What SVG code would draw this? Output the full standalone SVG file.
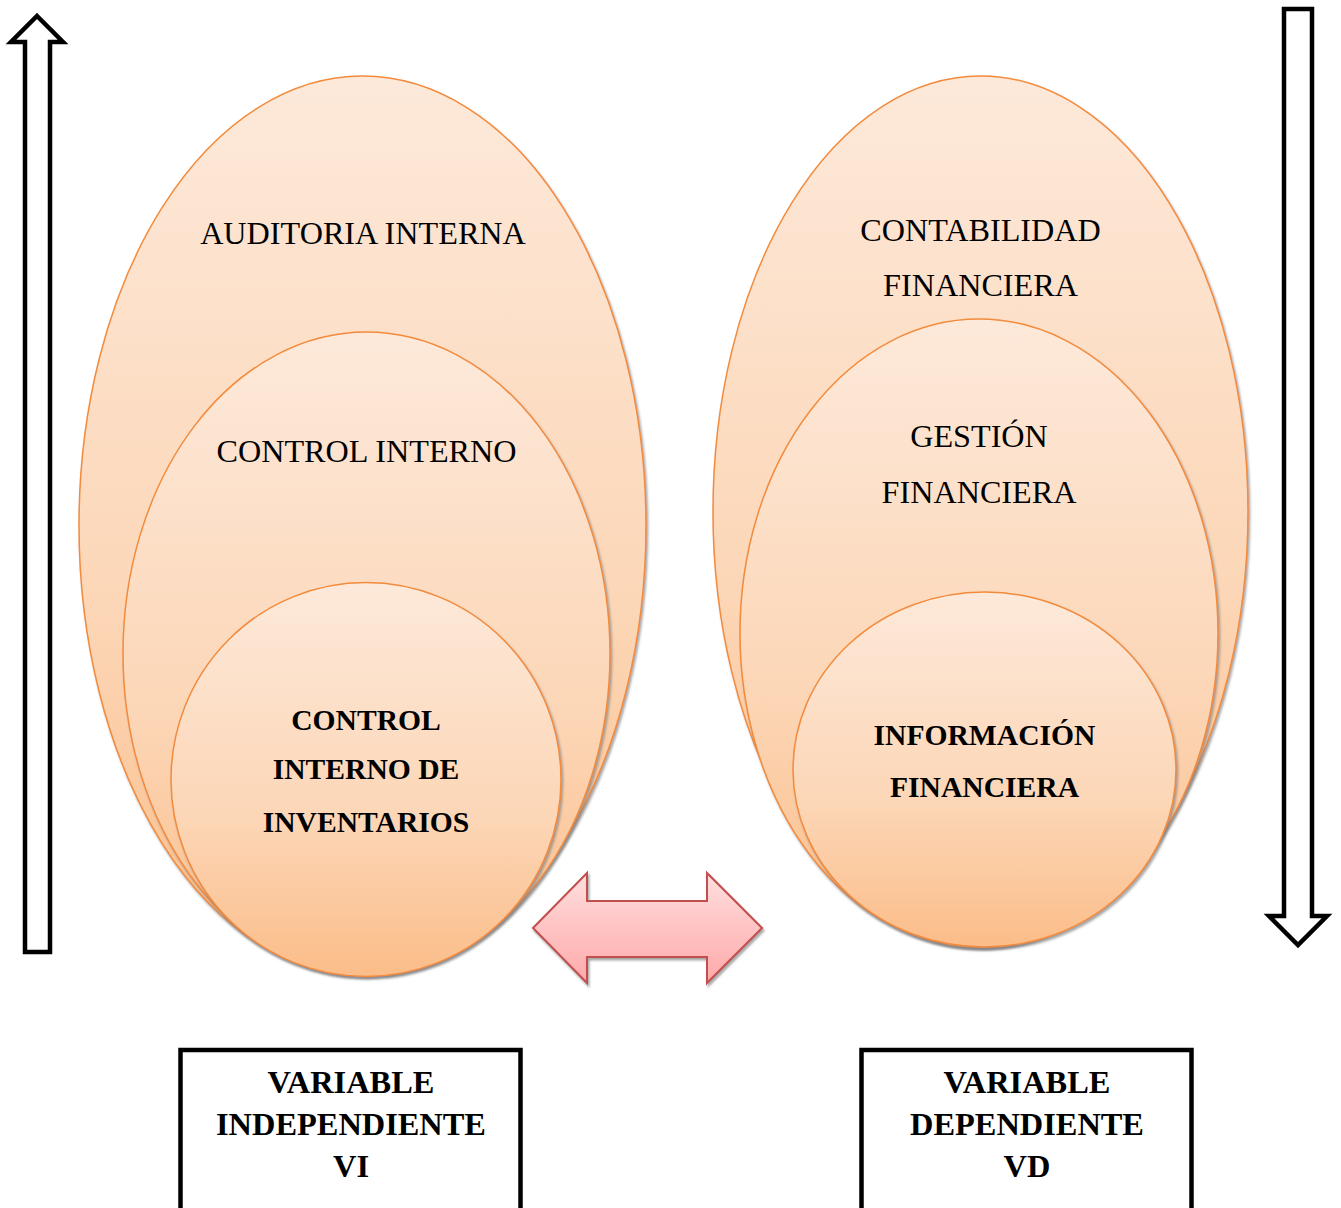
<svg xmlns="http://www.w3.org/2000/svg" width="1341" height="1208" viewBox="0 0 1341 1208">
  <defs>
    <linearGradient id="peach" x1="0" y1="0" x2="0" y2="1">
      <stop offset="0" stop-color="#fde9da"/>
      <stop offset="0.6" stop-color="#fcd6b6"/>
      <stop offset="1" stop-color="#fbbd89"/>
    </linearGradient>
    <linearGradient id="pink" x1="0" y1="0" x2="0" y2="1">
      <stop offset="0" stop-color="#ffdede"/>
      <stop offset="1" stop-color="#ffa9a9"/>
    </linearGradient>
    <filter id="shadow" x="-10%" y="-10%" width="120%" height="120%">
      <feDropShadow dx="1.5" dy="2.5" stdDeviation="1" flood-color="#808080" flood-opacity="0.7"/>
    </filter>
  </defs>
  <style>
    .oval { fill: url(#peach); stroke: #f38b3c; stroke-width: 1.5; filter: url(#shadow); }
    .outline { fill: #ffffff; stroke: #000000; stroke-width: 4.5; stroke-linejoin: miter; }
    .box { fill: #ffffff; stroke: #000000; stroke-width: 4.5; }
    .t { font-family: "Liberation Serif", "Times New Roman", serif; font-size: 32.2px; fill: #000000; text-anchor: middle; }
    .b { font-family: "Liberation Serif", "Times New Roman", serif; font-size: 29.6px; font-weight: bold; fill: #000000; text-anchor: middle; }
    .bb { font-family: "Liberation Serif", "Times New Roman", serif; font-size: 32.4px; font-weight: bold; fill: #000000; text-anchor: middle; }
  </style>

  <!-- vertical direction arrows -->
  <g id="arrow-up">
    <path class="outline" d="M37,16 L63,42 L50,42 L50,952 L25,952 L25,42 L11,42 Z"/>
  </g>
  <g id="arrow-down">
    <path class="outline" d="M1284,9 L1312,9 L1312,916 L1327,916 L1298,945 L1269,916 L1284,916 Z"/>
  </g>

  <!-- independent variable: nested ovals -->
  <g id="auditoria-interna">
    <ellipse class="oval" cx="362.5" cy="525.5" rx="283.5" ry="449.5"/>
    <text class="t" x="363" y="244">AUDITORIA INTERNA</text>
  </g>
  <g id="control-interno">
    <ellipse class="oval" cx="366.5" cy="653.5" rx="243.5" ry="321.5"/>
    <text class="t" x="366.5" y="462">CONTROL INTERNO</text>
  </g>
  <g id="control-interno-inventarios">
    <ellipse class="oval" cx="366" cy="779.5" rx="195" ry="197"/>
    <text class="b" x="366" y="730">CONTROL</text>
    <text class="b" x="366" y="779">INTERNO DE</text>
    <text class="b" x="366" y="832">INVENTARIOS</text>
  </g>

  <!-- dependent variable: nested ovals -->
  <g id="contabilidad-financiera">
    <ellipse class="oval" cx="980.5" cy="511.5" rx="267.5" ry="435.5"/>
    <text class="t" x="980.5" y="241">CONTABILIDAD</text>
    <text class="t" x="980.5" y="296">FINANCIERA</text>
  </g>
  <g id="gestion-financiera">
    <ellipse class="oval" cx="979" cy="633" rx="239" ry="314"/>
    <text class="t" x="979" y="447">GESTIÓN</text>
    <text class="t" x="979" y="503">FINANCIERA</text>
  </g>
  <g id="informacion-financiera">
    <ellipse class="oval" cx="984.5" cy="769.5" rx="191.5" ry="177.5"/>
    <text class="b" x="984.5" y="745">INFORMACIÓN</text>
    <text class="b" x="984.5" y="797">FINANCIERA</text>
  </g>

  <!-- relation between the two variables -->
  <g id="connectors">
    <path d="M533,928 L587,873 L587,901 L707,901 L707,873 L762,928 L707,983 L707,957 L587,957 L587,983 Z"
          fill="url(#pink)" stroke="#c0504d" stroke-width="2" stroke-linejoin="miter" filter="url(#shadow)"/>
  </g>

  <!-- variable labels -->
  <g id="variable-independiente">
    <rect class="box" x="180.5" y="1050" width="340" height="170"/>
    <text class="bb" x="351" y="1093">VARIABLE</text>
    <text class="bb" x="351" y="1135">INDEPENDIENTE</text>
    <text class="bb" x="351" y="1177">VI</text>
  </g>
  <g id="variable-dependiente">
    <rect class="box" x="861.5" y="1050" width="330" height="170"/>
    <text class="bb" x="1027" y="1093">VARIABLE</text>
    <text class="bb" x="1027" y="1135">DEPENDIENTE</text>
    <text class="bb" x="1027" y="1177">VD</text>
  </g>
</svg>
